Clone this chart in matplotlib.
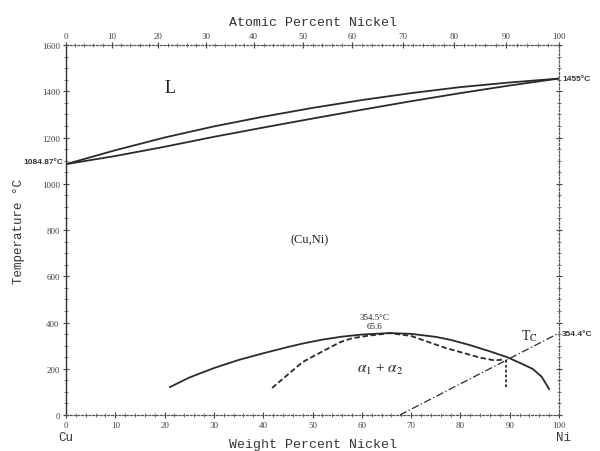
import numpy as np
import matplotlib.pyplot as plt

plt.rcParams['mathtext.fontset'] = 'stix'

# liquidus / solidus (wt% Ni, deg C)
liq_x = [0, 10, 20, 30, 40, 50, 60, 70, 80, 90, 100]
liq_t = [1084.87, 1145, 1200, 1248, 1290, 1328, 1362, 1392, 1418, 1438, 1455]
sol_x = [0, 10, 20, 30, 40, 50, 60, 70, 80, 90, 100]
sol_t = [1084.87, 1120, 1160, 1203, 1243, 1282, 1320, 1357, 1392, 1425, 1455]

# miscibility gap (solid)
gap_x = [21.1, 25, 30, 35, 40, 45, 48, 52, 56, 60, 65.6, 70, 75, 78, 82, 86, 89.4, 92, 94.7, 96.5, 98]
gap_t = [121, 162, 203, 238, 267, 294, 309, 326, 339, 348, 354.5, 351, 338, 325, 302, 275, 251, 226, 199, 165, 112]

# spinodal-type dashed curve
dash_x = [41.8, 45, 48, 52, 55.6, 58, 61, 65.6, 70, 74, 77, 80, 84, 87, 88.7]
dash_t = [117, 175, 229, 275, 315, 332, 342, 354, 342, 312, 290, 272, 248, 236, 240]

# dotted vertical below the dashed end
vert_x = [89.2, 89.2]
vert_t = [240, 112]

# Curie temperature line
tc_x = [67.7, 100]
tc_t = [0, 354.4]

x_ticks = list(range(0, 101, 10))
y_ticks = list(range(0, 1601, 200))
at_ticks = list(range(0, 101, 10))

MW_NI = 58.69
MW_CU = 63.55


def wt_to_at(w):
    w = np.asarray(w, dtype=float)
    with np.errstate(divide='ignore', invalid='ignore'):
        n = w / MW_NI
        c = (100 - w) / MW_CU
        return 100 * n / (n + c)


def at_to_wt(a):
    a = np.asarray(a, dtype=float)
    with np.errstate(divide='ignore', invalid='ignore'):
        n = a * MW_NI
        c = (100 - a) * MW_CU
        return 100 * n / (n + c)


fig = plt.figure(figsize=(6, 4.52), dpi=100)
ax = fig.add_axes([0.11, 0.0796, 0.8217, 0.8186])

col = '#2a2a2a'
ax.plot(liq_x, liq_t, color=col, lw=1.3)
ax.plot(sol_x, sol_t, color=col, lw=1.3)
ax.plot(gap_x, gap_t, color=col, lw=1.3)
ax.plot(dash_x, dash_t, color=col, lw=1.3, ls=(0, (3, 1.5)))
ax.plot(vert_x, vert_t, color=col, lw=1.3, ls=(0, (1.5, 1.2)))
ax.plot(tc_x, tc_t, color=col, lw=0.9, ls=(0, (6, 2, 1, 2)))

ax.set_xlim(0, 100)
ax.set_ylim(0, 1600)
ax.set_xticks(x_ticks)
ax.set_xticks(range(0, 101, 2), minor=True)
ax.set_yticks(y_ticks)
ax.set_yticks(range(0, 1601, 50), minor=True)

tick_font = dict(family='Liberation Serif', size=6.5, color='#444444')
ax.set_xticklabels([str(v) for v in x_ticks], **tick_font)
ax.set_yticklabels([str(v) for v in y_ticks], **tick_font)
ax.tick_params(which='major', direction='inout', length=5, width=0.8, colors='#444444', pad=2)
ax.tick_params(which='minor', direction='inout', length=2.5, width=0.6, colors='#666666')
ax.tick_params(axis='y', which='both', right=True)

for side in ['top', 'bottom', 'right']:
    ax.spines[side].set_linestyle((0, (1.5, 1.5)))
    ax.spines[side].set_linewidth(0.9)
    ax.spines[side].set_color('#555555')
ax.spines['left'].set_linewidth(1.0)
ax.spines['left'].set_color('#333333')

top = ax.secondary_xaxis('top', functions=(wt_to_at, at_to_wt))
top.set_xticks(at_ticks)
top.set_xticks(range(0, 101, 2), minor=True)
top.set_xticklabels([str(v) for v in at_ticks], **tick_font)
top.tick_params(which='major', direction='inout', length=5, width=0.8, colors='#444444', pad=1)
top.tick_params(which='minor', direction='inout', length=2.5, width=0.6, colors='#666666')
top.spines['top'].set_visible(False)

mono = dict(family='Liberation Mono', color='#333333')
ax.set_xlabel('Weight Percent Nickel', fontsize=9.5, labelpad=6, **mono)
top.set_xlabel('Atomic Percent Nickel', fontsize=9.5, labelpad=5, **mono)
ax.set_ylabel('Temperature °C', fontsize=9, labelpad=12, **mono)

serif = dict(family='Liberation Serif', color='#222222')
ax.text(21, 1418, 'L', fontsize=13, ha='center', va='center', **serif)
ax.text(49.5, 761, '(Cu,Ni)', fontsize=9, ha='center', va='center', **serif)
ax.text(63.7, 200, r'$\alpha_1$ + $\alpha_2$', fontsize=11, ha='center', va='center', **serif)
ax.text(94, 345, r'T$_\mathrm{C}$', fontsize=10, ha='center', va='center', **serif)
ax.text(62.5, 422, '354.5°C', fontsize=6.5, ha='center', va='center', **serif)
ax.text(62.5, 385, '65.6', fontsize=6.5, ha='center', va='center', **serif)

small = dict(family='Liberation Sans', fontsize=6, fontweight='bold', color='#333333')
ax.text(-0.5, 1098, '1084.87°C', ha='right', va='center', **small)
ax.text(100.6, 1455, '1455°C', ha='left', va='center', **small)
ax.text(100.6, 354.4, '354.4°C', ha='left', va='center', **small)

ax.text(0, -95, 'Cu', fontsize=9, ha='center', va='center', **mono)
ax.text(101, -95, 'Ni', fontsize=9, ha='center', va='center', **mono)

fig.savefig('out.png', dpi=100)
